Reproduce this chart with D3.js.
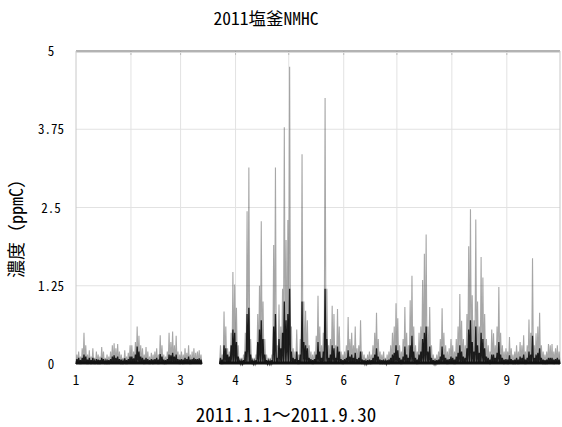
<!DOCTYPE html>
<html><head><meta charset="utf-8">
<script src="https://cdn.jsdelivr.net/npm/d3@7"></script>
<style>
html,body{margin:0;padding:0;background:#fff;}
svg{display:block;font-family:"Noto Sans Mono CJK JP","Noto Sans CJK JP",monospace;}
</style></head><body>
<svg id="c" width="562" height="427"></svg>
<script>
// ---- data (daily peak and daily mean, ppmC), day 0 = 2011-01-01 ----
const title = "2011塩釜NMHC";
const yLabel = "濃度（ppmC）";
const xLabel = "2011.1.1～2011.9.30";
const monthLabels = ["1","2","3","4","5","6","7","8","9"];
const yTicks = [0, 1.25, 2.5, 3.75, 5];
const yTickLabels = ["0","1.25","2.5","3.75","5"];
const N = null;
const peakJan = [0.15,0.2,0.12,0.25,0.5,0.3,0.15,0.22,0.12,0.25,0.1,0.2,0.15,0.12,0.27,0.2,0.1,0.15,0.12,0.2,0.3,0.33,0.25,0.32,0.2,0.15,0.1,0.22,0.12,0.18,0.3];
const peakFeb = [0.3,0.2,0.35,0.6,0.45,0.3,0.25,0.15,0.27,0.2,0.12,0.18,0.15,0.2,0.25,0.15,0.46,0.3,0.15,0.12,0.2,0.5,0.35,0.52,0.3,0.45,0.2,0.15];
const peakMar = [0.2,0.15,0.25,0.18,0.3,0.15,0.2,0.25,0.18,0.2,0.22,0.15,N,N,N,N,N,N,N,N,N,N,0.3,0.15,0.84,0.6,0.25,0.2,0.5,1.47,1.27];
const peakApr = [0.9,0.3,0.1,0.1,0.15,0.5,2.44,3.14,0.4,0.1,0.1,0.15,0.8,1.25,2.28,1.0,0.4,0.15,0.1,0.1,0.15,1.9,3.14,0.3,0.95,0.6,1.2,3.78,1.98,2.3];
const peakMay = [4.75,0.6,0.25,0.2,0.55,0.15,0.4,3.35,1.0,0.85,0.7,0.3,0.2,0.15,0.2,0.45,1.09,0.6,0.3,0.5,4.25,1.2,0.3,0.4,0.93,0.8,0.3,0.88,0.6,0.2,0.15];
const peakJun = [0.2,0.3,0.75,0.4,0.5,0.3,0.6,0.25,0.3,0.7,0.2,0.15,0.1,0.15,0.2,0.15,0.3,0.5,0.82,0.4,0.2,0.15,0.2,0.1,0.15,0.2,0.3,0.5,0.6,0.97];
const peakJul = [0.73,0.3,0.2,0.4,0.91,0.5,0.3,1.02,1.41,0.6,0.3,0.2,0.5,0.6,1.34,1.76,2.07,0.6,0.91,0.3,0.15,0.1,0.15,0.2,0.4,0.89,0.5,0.3,0.2,0.25,0.4];
const peakAug = [0.3,0.2,0.4,0.6,1.12,0.69,0.4,0.3,0.8,1.88,2.47,1.1,0.7,2.31,1.0,0.6,1.71,1.38,0.8,0.4,0.3,0.2,0.55,0.49,0.3,0.6,1.23,0.5,0.3,0.2,0.25];
const peakSep = [0.2,0.43,0.25,0.15,0.2,0.3,0.2,0.35,0.3,0.46,0.2,0.3,0.71,0.5,1.69,0.3,0.49,0.6,0.82,0.3,0.2,0.15,0.2,0.32,0.3,0.32,0.2,0.25,0.3,0.2];

const meanJan = [0.08,0.1,0.06,0.1,0.15,0.12,0.07,0.1,0.06,0.1,0.05,0.08,0.07,0.06,0.1,0.08,0.05,0.07,0.06,0.08,0.12,0.14,0.1,0.12,0.08,0.07,0.05,0.09,0.06,0.08,0.12];
const meanFeb = [0.12,0.09,0.15,0.28,0.2,0.12,0.1,0.07,0.1,0.08,0.06,0.08,0.07,0.08,0.1,0.07,0.16,0.12,0.07,0.06,0.08,0.15,0.14,0.18,0.12,0.15,0.08,0.07];
const meanMar = [0.08,0.07,0.1,0.08,0.12,0.07,0.08,0.1,0.08,0.08,0.09,0.07,N,N,N,N,N,N,N,N,N,N,0.1,0.07,0.3,0.25,0.15,0.12,0.3,0.55,0.5];
const meanApr = [0.35,0.12,0.05,0.05,0.06,0.2,0.8,0.9,0.15,0.05,0.05,0.06,0.35,0.55,0.7,0.4,0.15,0.06,0.05,0.05,0.06,0.6,0.8,0.1,0.4,0.25,0.5,1.0,0.7,0.8];
const meanMay = [1.2,0.2,0.1,0.08,0.2,0.06,0.15,1.0,0.35,0.3,0.25,0.1,0.08,0.06,0.08,0.15,0.35,0.2,0.1,0.2,1.2,0.4,0.1,0.15,0.3,0.25,0.1,0.28,0.2,0.08,0.06];
const meanJun = [0.08,0.1,0.22,0.12,0.15,0.1,0.18,0.08,0.1,0.2,0.07,0.06,0.05,0.06,0.07,0.06,0.1,0.15,0.25,0.12,0.07,0.06,0.07,0.05,0.06,0.07,0.1,0.15,0.18,0.3];
const meanJul = [0.22,0.1,0.07,0.12,0.28,0.15,0.1,0.3,0.45,0.2,0.1,0.07,0.15,0.2,0.4,0.5,0.6,0.2,0.28,0.1,0.06,0.05,0.06,0.07,0.12,0.28,0.15,0.1,0.07,0.08,0.12];
const meanAug = [0.1,0.07,0.12,0.18,0.3,0.2,0.12,0.1,0.25,0.55,0.7,0.35,0.2,0.6,0.3,0.18,0.5,0.4,0.25,0.12,0.1,0.07,0.15,0.15,0.1,0.18,0.35,0.15,0.1,0.07,0.08];
const meanSep = [0.07,0.14,0.08,0.06,0.07,0.1,0.07,0.12,0.1,0.15,0.07,0.1,0.2,0.15,0.45,0.1,0.15,0.18,0.25,0.1,0.07,0.06,0.07,0.1,0.1,0.1,0.07,0.08,0.1,0.07];

const peaks = [].concat(peakJan,peakFeb,peakMar,peakApr,peakMay,peakJun,peakJul,peakAug,peakSep);
const means = [].concat(meanJan,meanFeb,meanMar,meanApr,meanMay,meanJun,meanJul,meanAug,meanSep);
const day = i => new Date(2011, 0, 1 + i);
const halfDay = i => new Date(2011, 0, 1 + i, 12);

// ---- layout ----
const svg = d3.select("#c");
const L = 76, R = 560, T = 51, B = 364;
const x = d3.scaleTime().domain([new Date(2011,0,1), new Date(2011,9,1)]).range([L, R]);
const y = d3.scaleLinear().domain([0, 5]).range([B, T]);

// grid
const months = d3.range(0, 9).map(m => new Date(2011, m, 1));
svg.append("g").selectAll("line").data(months.slice(1)).join("line")
  .attr("x1", d => x(d)).attr("x2", d => x(d)).attr("y1", T).attr("y2", B)
  .attr("stroke", "#e2e2e2").attr("stroke-width", 1);
svg.append("g").selectAll("line").data(yTicks.slice(1, 4)).join("line")
  .attr("x1", L).attr("x2", R).attr("y1", d => y(d)).attr("y2", d => y(d))
  .attr("stroke", "#e2e2e2").attr("stroke-width", 1);
svg.append("g").selectAll("line").data(months.slice(1)).join("line")
  .attr("x1", d => x(d)).attr("x2", d => x(d)).attr("y1", T).attr("y2", T + 4)
  .attr("stroke", "#bbb").attr("stroke-width", 1);

// borders
svg.append("line").attr("x1", L).attr("x2", R).attr("y1", T).attr("y2", T).attr("stroke", "#9a9a9a").attr("stroke-width", 1.5);
svg.append("line").attr("x1", L).attr("x2", R).attr("y1", T + 1.5).attr("y2", T + 1.5).attr("stroke", "#dcdcdc").attr("stroke-width", 1);
svg.append("line").attr("x1", L).attr("x2", L).attr("y1", T).attr("y2", B).attr("stroke", "#c8c8c8").attr("stroke-width", 1);
svg.append("line").attr("x1", R).attr("x2", R).attr("y1", T).attr("y2", B).attr("stroke", "#c8c8c8").attr("stroke-width", 1);

// series paths: each day rises from baseline to its value and back
function spikePath(vals) {
  let p = "";
  let open = false;
  vals.forEach((v, i) => {
    if (v == null) { open = false; return; }
    const x0 = x(day(i)), xm = x(halfDay(i)), x1 = x(day(i + 1));
    p += (open ? "L" : "M") + x0 + "," + y(0) + "L" + xm + "," + y(v) + "L" + x1 + "," + y(0);
    open = true;
  });
  return p;
}
svg.append("path").attr("d", spikePath(peaks))
  .attr("fill", "none").attr("stroke", "rgba(60,60,60,0.45)").attr("stroke-width", 1.1);
svg.append("path").attr("d", spikePath(means))
  .attr("fill", "none").attr("stroke", "rgba(0,0,0,0.85)").attr("stroke-width", 1.3);
const segs = [];
let cur = null;
peaks.forEach((v, i) => {
  if (v == null) { cur = null; return; }
  if (!cur) { cur = [i, i]; segs.push(cur); } else cur[1] = i;
});
svg.append("g").selectAll("line").data(segs).join("line")
  .attr("x1", d => x(day(d[0]))).attr("x2", d => x(day(d[1] + 1)))
  .attr("y1", y(0) - 1).attr("y2", y(0) - 1)
  .attr("stroke", "#111").attr("stroke-width", 3);

// axis labels
svg.append("g").selectAll("text").data(months).join("text")
  .attr("x", d => x(d)).attr("y", 385).attr("text-anchor", "middle")
  .attr("font-size", 13).attr("fill", "#000").text((d, i) => monthLabels[i]);
svg.append("g").selectAll("text").data(yTicks).join("text")
  .attr("x", 51).attr("y", d => y(d) + 5).attr("text-anchor", "middle")
  .attr("font-size", 13).attr("fill", "#000").text((d, i) => yTickLabels[i]);

svg.append("text").attr("x", 266).attr("y", 25).attr("text-anchor", "middle")
  .attr("font-size", 17.5).attr("fill", "#000").text(title);
svg.append("text").attr("x", 286).attr("y", 422).attr("text-anchor", "middle")
  .attr("font-size", 19).attr("fill", "#000").text(xLabel);
svg.append("text").attr("transform", "translate(23,224) rotate(-90)").attr("text-anchor", "middle")
  .attr("font-size", 18).attr("fill", "#000").text(yLabel);
</script>
</body></html>
